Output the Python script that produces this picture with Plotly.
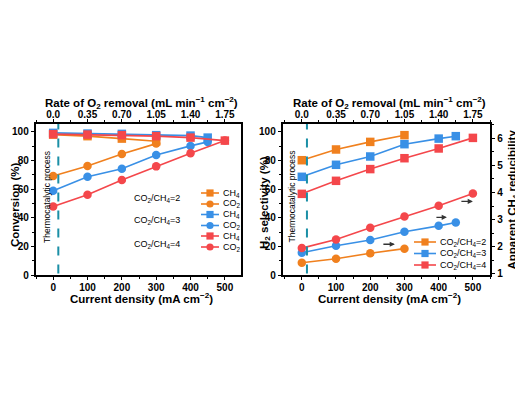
import plotly.graph_objects as go

# ---------------- data ----------------
cd_r2 = [0, 100, 200, 300]
cd_r3 = [0, 100, 200, 300, 400, 450]
cd_r4 = [0, 100, 200, 300, 400, 500]

conv_ch4_r2 = [98.1, 97.0, 95.3, 93.4]
conv_co2_r2 = [69.1, 76.1, 84.5, 91.8]
conv_ch4_r3 = [99.3, 98.8, 98.6, 97.7, 97.4, 96.0]
conv_co2_r3 = [58.8, 68.6, 74.2, 83.8, 90.2, 93.0]
conv_ch4_r4 = [98.4, 98.1, 97.7, 97.0, 96.0, 93.9]
conv_co2_r4 = [47.8, 56.0, 66.3, 75.9, 85.0, 93.9]

h2sel_r2 = [80.2, 87.7, 93.0, 97.7]
h2sel_r3 = [68.6, 77.0, 82.8, 91.4, 95.3, 97.0]
h2sel_r4 = [56.7, 65.8, 74.0, 81.6, 88.4, 95.8]

red_r2 = [1.41, 1.56, 1.76, 1.93]
red_r3 = [1.78, 2.04, 2.25, 2.55, 2.77, 2.89]
red_r4 = [1.95, 2.27, 2.70, 3.11, 3.51, 3.96]

bottom_ticks = [0, 100, 200, 300, 400, 500]
top_ticktext = ["0.0", "0.35", "0.70", "1.05", "1.40", "1.75"]
conv_ticks = [0, 20, 40, 60, 80, 100]
red_ticks = [1, 2, 3, 4, 5, 6]
thermo_x = 15

ORANGE = "#F0801E"
BLUE = "#3990E6"
RED = "#F4474B"
TEAL = "#1B8FA6"
FONT = "Arial, Liberation Sans, sans-serif"

# page body has an 8px margin: figure is drawn offset by (8, 8)
OFF = 8
W, H = 523 - OFF, 393 - OFF
def px(x):
    return (x - OFF) / W
def py(y):
    return 1 - (y - OFF) / H

fig = go.Figure()

def add(x, y, color, symbol, xa, ya):
    fig.add_trace(go.Scatter(
        x=x, y=y, mode="lines+markers", xaxis=xa, yaxis=ya,
        line=dict(color=color, width=1.6),
        marker=dict(symbol=symbol, size=8.5, color=color),
        showlegend=False, hoverinfo="skip"))

# left plot
add(cd_r2, conv_ch4_r2, ORANGE, "square", "x", "y")
add(cd_r2, conv_co2_r2, ORANGE, "circle", "x", "y")
add(cd_r3, conv_ch4_r3, BLUE, "square", "x", "y")
add(cd_r3, conv_co2_r3, BLUE, "circle", "x", "y")
add(cd_r4, conv_ch4_r4, RED, "square", "x", "y")
add(cd_r4, conv_co2_r4, RED, "circle", "x", "y")
# right plot
add(cd_r2, h2sel_r2, ORANGE, "square", "x2", "y2")
add(cd_r3, h2sel_r3, BLUE, "square", "x2", "y2")
add(cd_r4, h2sel_r4, RED, "square", "x2", "y2")
add(cd_r2, red_r2, ORANGE, "circle", "x2", "y3")
add(cd_r3, red_r3, BLUE, "circle", "x2", "y3")
add(cd_r4, red_r4, RED, "circle", "x2", "y3")
# empty traces to activate top axes
fig.add_trace(go.Scatter(x=[], y=[], xaxis="x3", yaxis="y", showlegend=False))
fig.add_trace(go.Scatter(x=[], y=[], xaxis="x4", yaxis="y2", showlegend=False))

L1, R1, L2, R2, TOP, BOT = 36, 241, 283, 490, 124, 275
xd1 = [px(L1), px(R1)]
xd2 = [px(L2), px(R2)]
yd = [py(BOT), py(TOP)]

tickfont = dict(family=FONT, size=10, color="black", weight="bold")
titlefont = dict(family=FONT, size=11.5, color="black", weight="bold")

common_x = dict(showline=True, linecolor="black", linewidth=1.5, ticks="outside",
                ticklen=3.5, tickwidth=1.3, tickcolor="black", showgrid=False,
                zeroline=False, tickfont=tickfont, tickvals=bottom_ticks, automargin=False,
                minor=dict(ticks="outside", ticklen=2.5, tickwidth=1.1, tickcolor="black",
                           dtick=50, showgrid=False))
common_y = dict(showline=True, linecolor="black", linewidth=1.5, ticks="outside", ticklen=3.5,
                tickwidth=1.3, tickcolor="black", showgrid=False, zeroline=False,
                tickfont=tickfont, automargin=False)
xr1 = [-50, 547]
xr2 = [-55, 550]

fig.update_layout(
    width=W, height=H, margin=dict(l=0, r=0, t=0, b=0, autoexpand=False),
    paper_bgcolor="white", plot_bgcolor="white", showlegend=False,
    font=dict(family=FONT, color="black"),
    xaxis=dict(domain=xd1, range=xr1, anchor="y", ticklabelstandoff=-1, **common_x),
    xaxis3=dict(domain=xd1, range=xr1, anchor="y", overlaying="x", side="top",
                ticktext=top_ticktext, ticklabelstandoff=-3, **common_x),
    xaxis2=dict(domain=xd2, range=xr2, anchor="y2", ticklabelstandoff=-1, **common_x),
    xaxis4=dict(domain=xd2, range=xr2, anchor="y2", overlaying="x2", side="top",
                ticktext=top_ticktext, ticklabelstandoff=-3, **common_x),
    yaxis=dict(domain=yd, range=[0, 105.5], anchor="x", mirror=True, tickvals=conv_ticks,
               minor=dict(ticks="outside", ticklen=2.5, tickwidth=1.1, tickcolor="black",
                          dtick=10, showgrid=False), **common_y),
    yaxis2=dict(domain=yd, range=[0, 105.5], anchor="x2", tickvals=conv_ticks,
                minor=dict(ticks="outside", ticklen=2.5, tickwidth=1.1, tickcolor="black",
                           dtick=10, showgrid=False), **common_y),
    yaxis3=dict(domain=yd, range=[0.96, 6.52], anchor="x2", overlaying="y2", side="right",
                tickvals=red_ticks,
                minor=dict(ticks="outside", ticklen=2.5, tickwidth=1.1, tickcolor="black",
                           dtick=0.5, showgrid=False), **common_y),
)

def ptext(text, x, y, font, angle=0, xanchor="center"):
    fig.add_annotation(text=text, x=px(x), y=py(y), xref="paper", yref="paper",
                       xanchor=xanchor, yanchor="middle", textangle=angle,
                       showarrow=False, font=font)

# axis titles as annotations
top_title = "Rate of O<sub>2</sub> removal (mL min<sup>−1</sup> cm<sup>−2</sup>)"
bot_title = "Current density (mA cm<sup>−2</sup>)"
for cx in [(L1 + R1) / 2 + 3, (L2 + R2) / 2 + 3]:
    ptext(top_title, cx, 103, titlefont)
    ptext(bot_title, cx, 298, titlefont)
ptext("Conversion (%)", 15, 205, titlefont, angle=-90)
ptext("H<sub>2</sub> selectivity (%)", 265, 203, titlefont, angle=-90)
ptext("Apparent CH<sub>4</sub> reducibility", 512, 199.5, titlefont, angle=-90)

# thermocatalytic dashed lines and labels
for xa, ya in [("x", "y"), ("x2", "y2")]:
    fig.add_shape(type="line", xref=xa, yref=f"{ya} domain", x0=thermo_x, x1=thermo_x,
                  y0=0.01, y1=1, line=dict(color=TEAL, width=2, dash="dash"))
thermo_font = dict(family=FONT, size=8.5, color="black")
fig.add_annotation(text="Thermocatalytic process", x=-18, y=54.5, xref="x", yref="y",
                   textangle=-90, showarrow=False, font=thermo_font)
fig.add_annotation(text="Thermocatalytic process", x=-28, y=55, xref="x2", yref="y2",
                   textangle=-90, showarrow=False, font=thermo_font)

# arrows (right plot) pointing to right axis
for x0, x1, yv in [(234, 272, 21.5), (389, 424, 40.3), (462, 500, 51.4)]:
    fig.add_annotation(x=x1, y=yv, ax=x0, ay=yv, xref="x2", yref="y2", axref="x2", ayref="y2",
                       text="", showarrow=True, arrowhead=2, arrowsize=0.8, arrowwidth=1.3,
                       arrowcolor="#333333")

# ----- manual legends -----
legfont = dict(family=FONT, size=9, color="black")

def leg_item(xc, yc, color, symbol, label, half=10):
    fig.add_shape(type="line", xref="paper", yref="paper", x0=px(xc - half), x1=px(xc + half),
                  y0=py(yc), y1=py(yc), line=dict(color=color, width=1.6))
    s = 3.6
    fig.add_shape(type="rect" if symbol == "square" else "circle", xref="paper", yref="paper",
                  x0=px(xc - s), x1=px(xc + s), y0=py(yc - s), y1=py(yc + s),
                  line=dict(width=0), fillcolor=color)
    ptext(label, xc + half + 2, yc, legfont, xanchor="left")

rows_left = [193, 204, 214.5, 225.5, 236, 247]
items_left = [(ORANGE, "square", "CH<sub>4</sub>"), (ORANGE, "circle", "CO<sub>2</sub>"),
              (BLUE, "square", "CH<sub>4</sub>"), (BLUE, "circle", "CO<sub>2</sub>"),
              (RED, "square", "CH<sub>4</sub>"), (RED, "circle", "CO<sub>2</sub>")]
for yc, (c, s, l) in zip(rows_left, items_left):
    leg_item(210, yc, c, s, l, half=9)
for yc, lab in [(198.5, "CO<sub>2</sub>/CH<sub>4</sub>=2"), (221, "CO<sub>2</sub>/CH<sub>4</sub>=3"),
                (244, "CO<sub>2</sub>/CH<sub>4</sub>=4")]:
    ptext(lab, 157, yc, legfont)

rows_right = [242, 253.5, 265]
items_right = [(ORANGE, "CO<sub>2</sub>/CH<sub>4</sub>=2"), (BLUE, "CO<sub>2</sub>/CH<sub>4</sub>=3"),
               (RED, "CO<sub>2</sub>/CH<sub>4</sub>=4")]
for yc, (c, l) in zip(rows_right, items_right):
    leg_item(425, yc, c, "square", l, half=11)

fig.write_html("out.html")
